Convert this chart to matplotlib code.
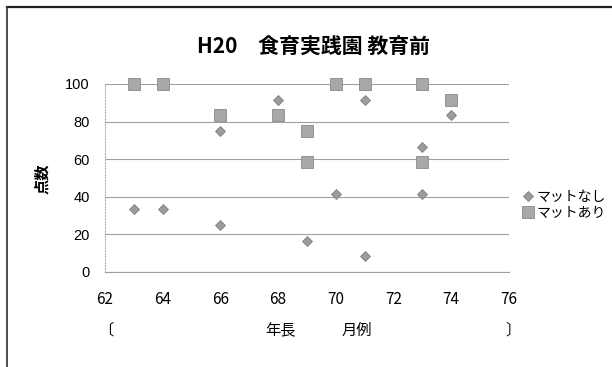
import matplotlib
matplotlib.use("Agg")
import matplotlib.pyplot as plt
from matplotlib.lines import Line2D

plt.rcParams['font.family'] = ['Noto Sans CJK JP', 'DejaVu Sans']

# Data
months_nashi = [63, 64, 66, 66, 68, 69, 70, 71, 71, 73, 73, 74]
score_nashi = [33.3, 33.3, 75, 25, 91.7, 16.7, 41.7, 91.7, 8.3, 66.7, 41.7, 83.3]
months_ari = [63, 64, 66, 68, 69, 69, 70, 71, 73, 73, 74]
score_ari = [100, 100, 83.3, 83.3, 75, 58.3, 100, 100, 100, 58.3, 91.7]

title = "H20　食育実践園 教育前"
labels = ["マットなし", "マットあり"]
xticks = [62, 64, 66, 68, 70, 72, 74, 76]
yticks = [0, 20, 40, 60, 80, 100]

fig = plt.figure(figsize=(6.12, 3.67), dpi=100)
ax = fig.add_axes([0.1716, 0.2589, 0.660, 0.5123])

ax.plot(months_nashi, score_nashi, linestyle='none', marker='D', markersize=5.5,
        color='#9c9c9c', markeredgecolor='#808080', markeredgewidth=0.6,
        label=labels[0], clip_on=False)
ax.plot(months_ari, score_ari, linestyle='none', marker='s', markersize=9,
        color='#a8a8a8', markeredgecolor='#8a8a8a', markeredgewidth=0.6,
        label=labels[1], clip_on=False)

ax.set_xlim(62, 76)
ax.set_ylim(0, 100)
ax.set_xticks(xticks)
ax.set_yticks(yticks)
ax.set_xticklabels([str(t) for t in xticks], fontsize=11)
ax.set_yticklabels([str(t) for t in yticks], fontsize=10.5, family=['Liberation Sans'])
ax.tick_params(length=0, pad=11)
ax.tick_params(axis='x', pad=14)

ax.grid(axis='y', color='#a0a0a0', linewidth=0.8)
ax.set_axisbelow(True)
for s in ['top', 'right']:
    ax.spines[s].set_visible(False)
ax.spines['left'].set_color('#b0b0b0')
ax.spines['left'].set_linestyle(':')
ax.spines['left'].set_linewidth(0.8)
ax.spines['bottom'].set_color('#a0a0a0')
ax.spines['bottom'].set_linewidth(0.8)

fig.text(0.512, 0.872, title, ha='center', va='center', fontsize=15, fontweight='bold')
fig.text(0.069, 0.512, "点数", rotation=90, ha='center', va='center', fontsize=11, fontweight='bold')

# x axis title pieces
fig.text(0.172, 0.100, "〔", ha='center', va='center', fontsize=11)
fig.text(0.459, 0.100, "年長", ha='center', va='center', fontsize=11)
fig.text(0.583, 0.100, "月例", ha='center', va='center', fontsize=11)
fig.text(0.838, 0.100, "〕", ha='center', va='center', fontsize=11)

ax.legend(loc='center left', bbox_to_anchor=(0.842, 0.442), bbox_transform=fig.transFigure,
          frameon=False, fontsize=10, handlelength=0.8, handletextpad=0.2,
          labelspacing=0.15, borderpad=0)

# frame of the (cropped) chart area
fig.add_artist(Line2D([0.011, 1.0], [0.980, 0.980], color='#202020', linewidth=1.6))
fig.add_artist(Line2D([0.012, 0.012], [0.0, 0.980], color='#303030', linewidth=1.2))

fig.savefig("out.png", dpi=100)
